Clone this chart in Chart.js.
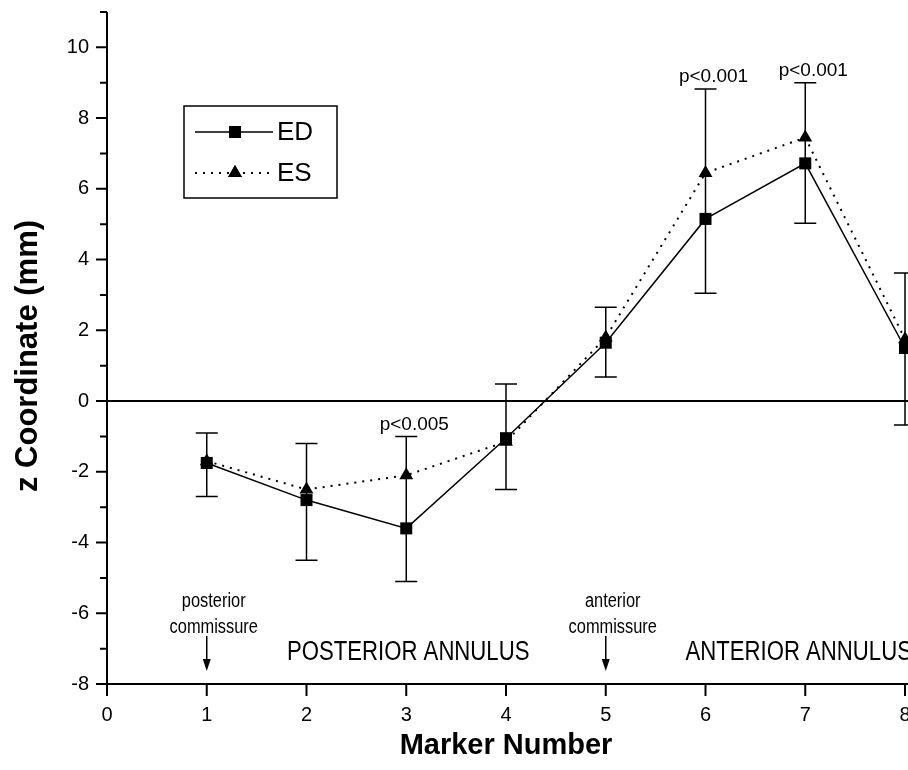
<!DOCTYPE html>
<html><head><meta charset="utf-8">
<script src="https://cdn.jsdelivr.net/npm/chart.js@4.4.1/dist/chart.umd.min.js"></script>
<style>html,body{margin:0;padding:0;background:#fff;}#wrap{width:908px;height:770px;}</style>
</head><body><div id="wrap"><canvas id="c" width="908" height="770"></canvas></div>
<script>
// ---- data ----
const markers   = [1, 2, 3, 4, 5, 6, 7, 8];
const edValues  = [-1.75, -2.8, -3.6, -1.05, 1.65, 5.15, 6.72, 1.5];
const esValues  = [-1.7, -2.5, -2.1, -1.15, 1.8, 6.45, 7.45, 1.75];
const errUpper  = [-0.9, -1.2, -1.0, 0.48, 2.65, 8.82, 9.0, 3.62];
const errLower  = [-2.7, -4.5, -5.1, -2.5, 0.68, 3.05, 5.03, -0.68];
const xTicks    = [0, 1, 2, 3, 4, 5, 6, 7, 8];
const yMajor    = [-8, -6, -4, -2, 0, 2, 4, 6, 8, 10];
const yMinor    = [-7, -5, -3, -1, 1, 3, 5, 7, 9, 11];
const pMarkers  = [3, 6, 7];
const pTexts    = ['p<0.005', 'p<0.001', 'p<0.001'];
const commMarkers = [1, 5];
const commTexts = [['posterior', 'commissure'], ['anterior', 'commissure']];
const regionTexts = ['POSTERIOR ANNULUS', 'ANTERIOR ANNULUS'];
const yTitle = 'z Coordinate (mm)';
const xTitle = 'Marker Number';

const FONT = "'Liberation Sans', Arial, sans-serif";
const NARROW = "'Liberation Sans Narrow', 'Arial Narrow', 'Liberation Sans', sans-serif";

function narrowText(ctx, text, x, y, size, align) {
  ctx.font = size + 'px ' + NARROW;
  const w1 = ctx.measureText(text).width;
  ctx.font = size + 'px ' + FONT;
  const w2 = ctx.measureText(text).width;
  ctx.font = size + 'px ' + NARROW;
  let sx = 1;
  if (Math.abs(w1 - w2) < 0.5) sx = 0.82;
  ctx.save();
  ctx.translate(x, y);
  ctx.scale(sx, 1);
  ctx.textAlign = align || 'center';
  ctx.textBaseline = 'middle';
  ctx.fillText(text, 0, 0);
  ctx.restore();
}

const sketch = {
  id: 'sketch',
  beforeDatasetsDraw(chart) {
    const {ctx, chartArea: a, scales: {x, y}} = chart;
    ctx.save();
    ctx.strokeStyle = '#000';
    ctx.fillStyle = '#000';
    // zero line
    ctx.lineWidth = 2;
    const y0 = y.getPixelForValue(0);
    ctx.beginPath(); ctx.moveTo(a.left, y0); ctx.lineTo(chart.width, y0); ctx.stroke();
    // error bars
    ctx.lineWidth = 1.5;
    markers.forEach((m, i) => {
      const px = x.getPixelForValue(m);
      const t = y.getPixelForValue(errUpper[i]);
      const b = y.getPixelForValue(errLower[i]);
      ctx.beginPath();
      ctx.moveTo(px, t); ctx.lineTo(px, b);
      ctx.moveTo(px - 11, t); ctx.lineTo(px + 11, t);
      ctx.moveTo(px - 11, b); ctx.lineTo(px + 11, b);
      ctx.stroke();
    });
    // p-value labels
    ctx.font = '19px ' + FONT;
    ctx.textAlign = 'center';
    ctx.textBaseline = 'middle';
    pMarkers.forEach((m, k) => {
      const i = markers.indexOf(m);
      const px = x.getPixelForValue(m) + 8;
      const py = y.getPixelForValue(errUpper[i]) - 12;
      ctx.fillText(pTexts[k], px, py);
    });
    // commissure labels + arrows
    commMarkers.forEach((m, k) => {
      const px = x.getPixelForValue(m);
      narrowText(ctx, commTexts[k][0], px + 7, y.getPixelForValue(-5.68), 20);
      narrowText(ctx, commTexts[k][1], px + 7, y.getPixelForValue(-6.39), 20);
      const ta = y.getPixelForValue(-6.64), tb = y.getPixelForValue(-7.63);
      ctx.lineWidth = 1.5;
      ctx.beginPath(); ctx.moveTo(px, ta); ctx.lineTo(px, tb - 8); ctx.stroke();
      ctx.beginPath(); ctx.moveTo(px - 4, tb - 12); ctx.lineTo(px + 4, tb - 12); ctx.lineTo(px, tb); ctx.closePath(); ctx.fill();
    });
    // region labels
    narrowText(ctx, regionTexts[0], x.getPixelForValue(3.02), y.getPixelForValue(-7.12), 27, 'center');
    narrowText(ctx, regionTexts[1], x.getPixelForValue(5.8), y.getPixelForValue(-7.12), 27, 'left');
    ctx.restore();
  },
  afterDatasetsDraw(chart) {
    const {ctx, chartArea: a, scales: {x, y}} = chart;
    ctx.save();
    ctx.strokeStyle = '#000';
    ctx.fillStyle = '#000';
    ctx.lineWidth = 2;
    // axes
    ctx.beginPath();
    ctx.moveTo(a.left, y.getPixelForValue(11)); ctx.lineTo(a.left, a.bottom);
    ctx.lineTo(chart.width, a.bottom);
    ctx.stroke();
    // ticks
    ctx.beginPath();
    yMajor.forEach(v => { const p = y.getPixelForValue(v); ctx.moveTo(a.left - 11, p); ctx.lineTo(a.left, p); });
    yMinor.forEach(v => { const p = y.getPixelForValue(v); ctx.moveTo(a.left - 7, p); ctx.lineTo(a.left, p); });
    xTicks.forEach(v => { const p = x.getPixelForValue(v); ctx.moveTo(p, a.bottom); ctx.lineTo(p, a.bottom + 12); });
    ctx.stroke();
    // y axis title
    ctx.save();
    ctx.translate(28, (a.top + a.bottom) / 2 + 8);
    ctx.rotate(-Math.PI / 2);
    ctx.font = 'bold 31px ' + FONT;
    ctx.textAlign = 'center';
    ctx.textBaseline = 'middle';
    ctx.fillText(yTitle, 0, 0);
    ctx.restore();
    // legend
    const lx = a.left + 77, ly = a.top + 94, lw = 153, lh = 92;
    ctx.lineWidth = 1.5;
    ctx.strokeRect(lx, ly, lw, lh);
    const ds = chart.data.datasets;
    const rows = [ly + 26, ly + 67];
    ds.forEach((d, i) => {
      const yy = rows[i];
      ctx.save();
      ctx.lineWidth = d.borderWidth;
      ctx.setLineDash(d.borderDash || []);
      ctx.beginPath(); ctx.moveTo(lx + 11, yy); ctx.lineTo(lx + 89, yy); ctx.stroke();
      ctx.restore();
      Chart.helpers.drawPoint(ctx, {pointStyle: d.pointStyle, radius: d.pointRadius, borderWidth: 0}, lx + 51, yy);
      ctx.fill();
      ctx.font = '26px ' + FONT;
      ctx.textAlign = 'left';
      ctx.textBaseline = 'middle';
      ctx.fillText(d.label, lx + 93, yy + 1);
    });
    ctx.restore();
  }
};

const toPts = vals => markers.map((m, i) => ({x: m, y: vals[i]}));

new Chart(document.getElementById('c'), {
  type: 'line',
  data: {
    datasets: [
      {label: 'ED', data: toPts(edValues), borderColor: '#000', borderWidth: 1.5,
       pointStyle: 'rect', pointRadius: 8.5, pointBackgroundColor: '#000', pointBorderWidth: 0,
       tension: 0, clip: false},
      {label: 'ES', data: toPts(esValues), borderColor: '#000', borderWidth: 2, borderDash: [2, 6],
       pointStyle: 'triangle', pointRadius: 8, pointBackgroundColor: '#000', pointBorderWidth: 0,
       tension: 0, clip: false}
    ]
  },
  options: {
    responsive: false,
    animation: false,
    devicePixelRatio: 1,
    layout: {autoPadding: false, padding: {top: 12, right: 3, left: 0, bottom: 0}},
    plugins: {legend: {display: false}, tooltip: {enabled: false}},
    scales: {
      x: {
        type: 'linear', min: 0, max: 8,
        afterBuildTicks: s => { s.ticks = xTicks.map(v => ({value: v})); },
        afterFit: s => { s.height = 86; s.paddingLeft = 0; s.paddingRight = 0; },
        grid: {display: false, drawTicks: false},
        border: {display: false},
        ticks: {color: '#000', font: {family: FONT, size: 20}, padding: 19, maxRotation: 0, autoSkip: false},
        title: {display: true, text: xTitle, color: '#000',
                font: {family: FONT, size: 29, weight: 'bold'}, padding: {top: 0, bottom: 7}}
      },
      y: {
        type: 'linear', min: -8, max: 11,
        afterBuildTicks: s => { s.ticks = yMajor.map(v => ({value: v})); },
        afterFit: s => { s.width = 107; s.paddingTop = 0; s.paddingBottom = 0; },
        grid: {display: false, drawTicks: false},
        border: {display: false},
        ticks: {color: '#000', font: {family: FONT, size: 20}, padding: 18, autoSkip: false},
        title: {display: false}
      }
    }
  },
  plugins: [sketch]
});
</script>
</body></html>
